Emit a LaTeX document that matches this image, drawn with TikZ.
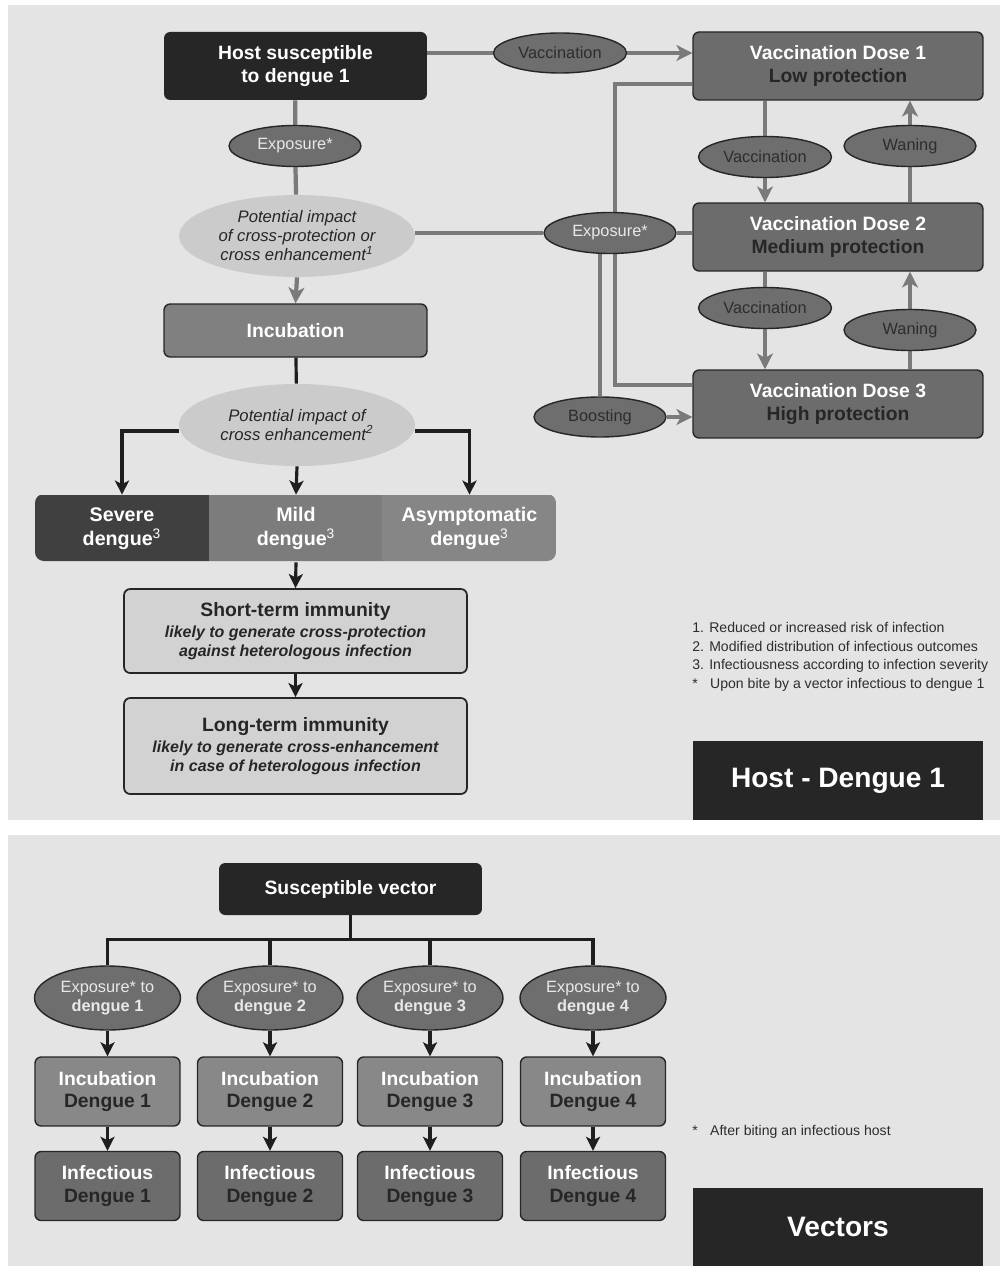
\documentclass[tikz,border=0pt]{standalone}
\usepackage{fontspec}
\setmainfont{Liberation Sans}
\usetikzlibrary{positioning,calc}
\usetikzlibrary{arrows.meta,shapes.geometric}
\definecolor{PanelGray}{RGB}{228,228,228}
\definecolor{BoxDark}{RGB}{38,38,38}
\definecolor{DoseGray}{RGB}{108,108,108}
\definecolor{IncGray}{RGB}{128,128,128}
\definecolor{VecIncGray}{RGB}{136,136,136}
\definecolor{OvalGray}{RGB}{110,110,110}
\definecolor{OvalLight}{RGB}{232,232,232}
\definecolor{OvalText}{RGB}{45,45,45}
\definecolor{ImpactGray}{RGB}{203,203,203}
\definecolor{ImmGray}{RGB}{210,210,210}
\definecolor{SevereGray}{RGB}{64,64,64}
\definecolor{MildGray}{RGB}{124,124,124}
\definecolor{AsymGray}{RGB}{134,134,134}
\definecolor{LineGray}{RGB}{122,122,122}
\definecolor{WireBlack}{RGB}{30,30,30}
\definecolor{DarkText}{RGB}{38,38,38}
\pgfdeclarelayer{panel}
\pgfdeclarelayer{wires}
\pgfsetlayers{panel,wires,main}
\newcommand{\thinsup}[1]{\textsuperscript{\mdseries #1}}
\tikzset{
  darkbox/.style={rectangle,rounded corners=3.5pt,fill=BoxDark,text=white,inner sep=0pt,
    font=\bfseries\fontsize{11}{13}\selectfont,align=center},
  titlebox/.style={rectangle,fill=BoxDark,text=white,inner sep=0pt,minimum width=5.8cm,
    font=\bfseries\fontsize{16}{19}\selectfont},
  dosebox/.style={rectangle,rounded corners=3.5pt,draw=black!85,line width=0.8pt,fill=DoseGray,
    text=white,inner sep=0pt,minimum width=5.8cm,minimum height=1.36cm,
    font=\bfseries\fontsize{11}{13}\selectfont,align=center},
  incbox/.style={dosebox,fill=IncGray},
  vecbox/.style={dosebox,minimum width=2.9cm,minimum height=1.38cm},
  oval/.style={ellipse,draw=black!85,line width=0.8pt,fill=OvalGray,text=OvalText,inner sep=0pt,
    minimum width=2.66cm,minimum height=0.82cm,font=\fontsize{9.3}{10.8}\selectfont,align=center},
  impact/.style={ellipse,fill=ImpactGray,text=DarkText,inner sep=0pt,minimum width=4.72cm,
    minimum height=1.64cm,font=\itshape\fontsize{9.5}{10.8}\selectfont,align=center},
  outcome/.style={rectangle,text=white,inner sep=0pt,minimum width=3.5cm,minimum height=1.34cm,
    font=\bfseries\fontsize{11.2}{13.6}\selectfont,align=center},
  immbox/.style={rectangle,rounded corners=3.5pt,draw=black!85,line width=1pt,fill=ImmGray,
    text=DarkText,inner sep=0pt,minimum width=6.86cm,
    font=\bfseries\itshape\fontsize{9.1}{10.8}\selectfont,align=center},
  legend/.style={text=OvalText,inner sep=0pt,align=left,font=\fontsize{8}{10.6}\selectfont},
  flow/.style={draw=LineGray,line width=2.4pt},
  flowarr/.style={flow,-{Stealth[length=9pt,width=9pt,inset=2.5pt]}},
  wire/.style={draw=WireBlack,line width=1.8pt},
  wirearr/.style={wire,-{Stealth[length=8pt,width=8pt,inset=2pt]}},
}

\begin{document}
\begin{tikzpicture}[x=0.02cm,y=-0.02cm]
\useasboundingbox (0,0) rectangle (1000,1266);
\begin{pgfonlayer}{panel}
\fill[PanelGray] (8,5) rectangle (1000,820);
\fill[PanelGray] (8,835) rectangle (1000,1266);
\end{pgfonlayer}

% host - dengue 1
\node[darkbox,minimum width=5.26cm,minimum height=1.36cm] (host) at (295.5,66) {Host susceptible\\to dengue 1};
\node[oval,minimum width=2.64cm,text=OvalLight] (expA) at (295,146) {Exposure*};
\node[impact] (impA) at (297,236) {Potential impact\\of cross-protection or\\cross enhancement\thinsup{1}};
\node[incbox,minimum width=5.26cm,minimum height=1.06cm] (inc) at (295.5,330.5) {Incubation};
\node[impact] (impB) at (297,425) {Potential impact of\\cross enhancement\thinsup{2}};
\begin{scope}
\clip[rounded corners=5pt] (35,494) rectangle (556,561);
\node[outcome,fill=SevereGray] (severe) at (122,528.5) {Severe\\dengue\thinsup{3}};
\node[outcome,fill=MildGray] (mild) at (296,528.5) {Mild\\dengue\thinsup{3}};
\node[outcome,fill=AsymGray] (asym) at (469.5,528.5) {Asymptomatic\\dengue\thinsup{3}};
\end{scope}
\node[immbox,minimum height=1.68cm] (shortT) at (295.5,631) {{\upshape\fontsize{11}{13}\selectfont Short-term immunity}\\[1pt]likely to generate cross-protection\\against heterologous infection};
\node[immbox,minimum height=1.92cm] (longT) at (295.5,746) {{\upshape\fontsize{11}{13}\selectfont Long-term immunity}\\[1pt]likely to generate cross-enhancement\\in case of heterologous infection};
\node[legend,anchor=north west] (notesA) at (692,622) {1. Reduced or increased risk of infection\\2. Modified distribution of infectious outcomes\\3. Infectiousness according to infection severity\\\makebox[1.27em][l]{*}Upon bite by a vector infectious to dengue 1};
\node[titlebox,minimum height=1.58cm] (hostTitle) at (838,780.5) {Host - Dengue 1};

% vaccination side
\node[oval,minimum height=0.8cm] (vaccA) at (560,53) {Vaccination};
\node[dosebox] (dose1) at (838,66) {Vaccination Dose 1\\\textcolor{DarkText}{Low protection}};
\node[dosebox] (dose2) at (838,237) {Vaccination Dose 2\\\textcolor{DarkText}{Medium protection}};
\node[dosebox] (dose3) at (838,404) {Vaccination Dose 3\\\textcolor{DarkText}{High protection}};
\node[oval] (vaccB) at (765,157) {Vaccination};
\node[oval,minimum width=2.64cm] (waneA) at (910,146) {Waning};
\node[oval] (vaccC) at (765,308) {Vaccination};
\node[oval,minimum width=2.64cm] (waneB) at (910,330) {Waning};
\node[oval,minimum width=2.64cm,text=OvalLight] (expB) at (610,233) {Exposure*};
\node[oval,minimum width=2.64cm,minimum height=0.8cm] (boost) at (600,417) {Boosting};

% vectors
\node[darkbox,minimum width=5.26cm,minimum height=1.04cm] (vec) at (350.5,889) {Susceptible vector};
\foreach \i/\x in {1/107.5,2/270,3/430,4/593}{
  \node[oval,text=OvalLight,minimum width=2.92cm,minimum height=1.28cm] (ex\i) at (\x,998) {Exposure* to\\\textbf{dengue \i}};
  \node[vecbox,fill=VecIncGray] (inc\i) at (\x,1091.5) {Incubation\\\textcolor{DarkText}{Dengue \i}};
  \node[vecbox] (inf\i) at (\x,1186) {Infectious\\\textcolor{DarkText}{Dengue \i}};
}
\node[legend,anchor=west] (notesB) at (692,1132) {\makebox[1.27em][l]{*}After biting an infectious host};
\node[titlebox,minimum height=1.56cm] (vecTitle) at (838,1227) {Vectors};

\begin{pgfonlayer}{wires}
\draw[flow] (host.east |- vaccA) -- (vaccA);
\draw[flowarr] (vaccA.east) -- (dose1.west |- vaccA.east);
\draw[flow] (host) -- (expA);
\draw[flow] (expA) -- (impA);
\draw[flowarr] (impA.south) -- (inc.north);
\draw[flow] (impA.east |- expB) -- (expB);
\draw[flow] (expB) -- (dose2.west |- expB);
\draw[flow] ([yshift=-0.36cm]dose1.west) -- ++(-77,0) |- ([yshift=0.38cm]dose3.west);
\draw[flow] (boost |- expB) -- (boost);
\draw[flowarr] (boost.east) -- (dose3.west |- boost.east);
\draw[flow] (vaccB |- dose1.south) -- (vaccB);
\draw[flowarr] (vaccB.south) -- (vaccB.south |- dose2.north);
\draw[flow] (waneA |- dose2.north) -- (waneA);
\draw[flowarr] (waneA.north) -- (waneA.north |- dose1.south);
\draw[flow] (vaccC |- dose2.south) -- (vaccC);
\draw[flowarr] (vaccC.south) -- (vaccC.south |- dose3.north);
\draw[flow] (waneB |- dose3.north) -- (waneB);
\draw[flowarr] (waneB.north) -- (waneB.north |- dose2.south);
\draw[wire] (inc) -- (impB);
\draw[wirearr] ([yshift=-0.12cm]impB.west) -| (severe.north);
\draw[wirearr] (impB.south) -- (mild.north);
\draw[wirearr] ([yshift=-0.12cm]impB.east) -| (asym.north);
\draw[wirearr] (mild.south) -- (shortT.north);
\draw[wirearr] (shortT.south) -- (longT.north);
\foreach \i in {1,...,4}{
  \draw[wire] (vec.south) -- ++(0,24) -| (ex\i);
  \draw[wirearr] (ex\i.south) -- (inc\i.north);
  \draw[wirearr] (inc\i.south) -- (inf\i.north);
}
\end{pgfonlayer}
\end{tikzpicture}
\end{document}
